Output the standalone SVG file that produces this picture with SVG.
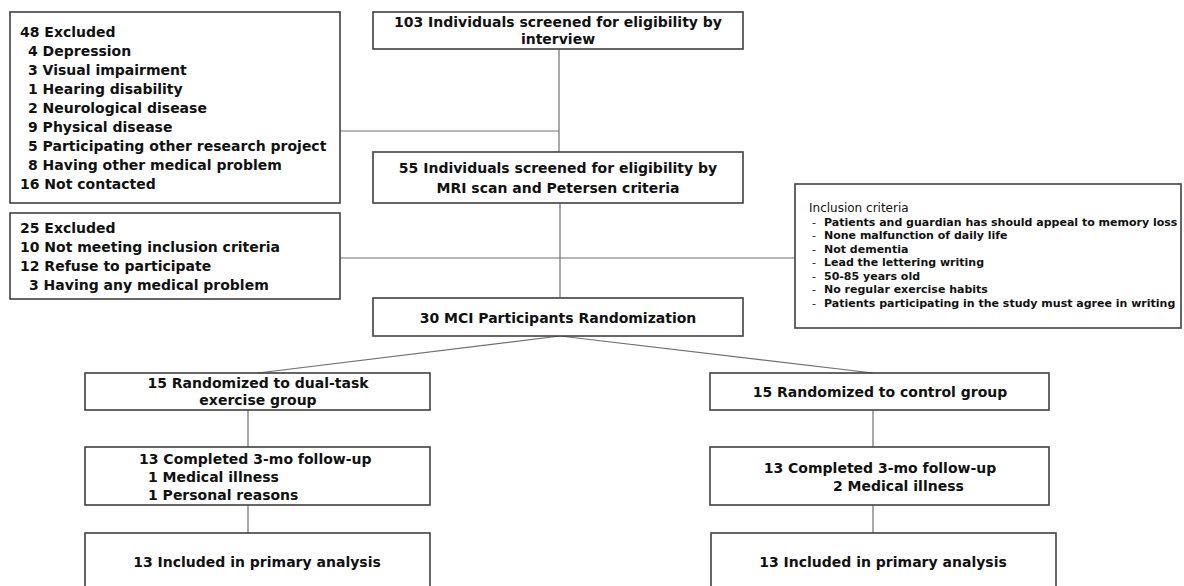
<svg xmlns="http://www.w3.org/2000/svg" width="1184" height="586" viewBox="0 0 1184 586">
<style>
.box{fill:#fff;stroke:#404040;stroke-width:1.6}
.ln{stroke:#707070;stroke-width:1.2;fill:none}
text{font-family:"DejaVu Sans","Liberation Sans",Arial,sans-serif;font-weight:bold;font-size:14px;fill:#111}
.c{text-anchor:middle}
.sm{font-size:11px}
.nb{font-weight:normal}
</style>
<rect width="1184" height="586" fill="#fff"/>
<g id="connectors">
<line class="ln" x1="559" y1="49" x2="559" y2="152"/>
<line class="ln" x1="340" y1="131" x2="559" y2="131"/>
<line class="ln" x1="560" y1="203" x2="560" y2="298"/>
<line class="ln" x1="340" y1="258" x2="795" y2="258"/>
<line class="ln" x1="560" y1="336" x2="258" y2="373"/>
<line class="ln" x1="560" y1="336" x2="873" y2="373"/>
<line class="ln" x1="248" y1="410" x2="248" y2="447"/>
<line class="ln" x1="248" y1="505" x2="248" y2="533"/>
<line class="ln" x1="873" y1="410" x2="873" y2="447"/>
<line class="ln" x1="873" y1="505" x2="873" y2="533"/>
</g>
<g id="excluded48">
<rect class="box" x="10" y="12" width="330" height="191"/>
<text x="20" y="37">48 Excluded</text>
<text x="28" y="56">4 Depression</text>
<text x="28" y="75">3 Visual impairment</text>
<text x="28" y="94">1 Hearing disability</text>
<text x="28" y="113">2 Neurological disease</text>
<text x="28" y="132">9 Physical disease</text>
<text x="28" y="151">5 Participating other research project</text>
<text x="28" y="170">8 Having other medical  problem</text>
<text x="20" y="189">16 Not contacted</text>
</g>
<g id="screened103">
<rect class="box" x="373" y="12" width="370" height="37"/>
<text class="c" x="558" y="27">103 Individuals screened for eligibility by</text>
<text class="c" x="558" y="44">interview</text>
</g>
<g id="screened55">
<rect class="box" x="373" y="152" width="370" height="51"/>
<text class="c" x="558" y="173">55 Individuals screened for eligibility by</text>
<text class="c" x="558" y="193">MRI scan and Petersen criteria</text>
</g>
<g id="excluded25">
<rect class="box" x="10" y="213" width="330" height="86"/>
<text x="20" y="233">25 Excluded</text>
<text x="20" y="252">10 Not meeting inclusion criteria</text>
<text x="20" y="271">12 Refuse to participate</text>
<text x="29" y="290">3 Having any medical problem</text>
</g>
<g id="inclusion">
<rect class="box" x="795" y="184" width="386" height="144"/>
<text class="nb" x="809" y="212" style="font-size:12px">Inclusion criteria</text>
<text class="sm nb" x="812" y="226">-</text><text class="sm" x="824" y="226">Patients and guardian has should appeal to memory loss</text>
<text class="sm nb" x="812" y="239">-</text><text class="sm" x="824" y="239">None malfunction of daily life</text>
<text class="sm nb" x="812" y="253">-</text><text class="sm" x="824" y="253">Not dementia</text>
<text class="sm nb" x="812" y="266">-</text><text class="sm" x="824" y="266">Lead the lettering writing</text>
<text class="sm nb" x="812" y="280">-</text><text class="sm" x="824" y="280">50-85 years old</text>
<text class="sm nb" x="812" y="293">-</text><text class="sm" x="824" y="293">No regular exercise habits</text>
<text class="sm nb" x="812" y="307">-</text><text class="sm" x="824" y="307">Patients participating in the study must agree in writing</text>
</g>
<g id="randomization">
<rect class="box" x="373" y="298" width="370" height="38"/>
<text class="c" x="558" y="323">30 MCI Participants Randomization</text>
</g>
<g id="dualtask">
<rect class="box" x="85" y="373" width="345" height="37"/>
<text class="c" x="258" y="388">15 Randomized to dual-task</text>
<text class="c" x="258" y="405">exercise group</text>
</g>
<g id="control">
<rect class="box" x="710" y="373" width="339" height="37"/>
<text class="c" x="880" y="397">15 Randomized to control group</text>
</g>
<g id="followupLeft">
<rect class="box" x="85" y="447" width="345" height="58"/>
<text x="139" y="464">13 Completed 3-mo follow-up</text>
<text x="148" y="482">1 Medical illness</text>
<text x="148" y="500">1 Personal reasons</text>
</g>
<g id="followupRight">
<rect class="box" x="710" y="447" width="339" height="58"/>
<text class="c" x="880" y="473">13 Completed 3-mo follow-up</text>
<text x="833" y="491">2 Medical illness</text>
</g>
<g id="analysisLeft">
<rect class="box" x="85" y="533" width="345" height="60"/>
<text class="c" x="257" y="567">13 Included in primary analysis</text>
</g>
<g id="analysisRight">
<rect class="box" x="711" y="533" width="345" height="60"/>
<text class="c" x="883" y="567">13 Included in primary analysis</text>
</g>
</svg>
